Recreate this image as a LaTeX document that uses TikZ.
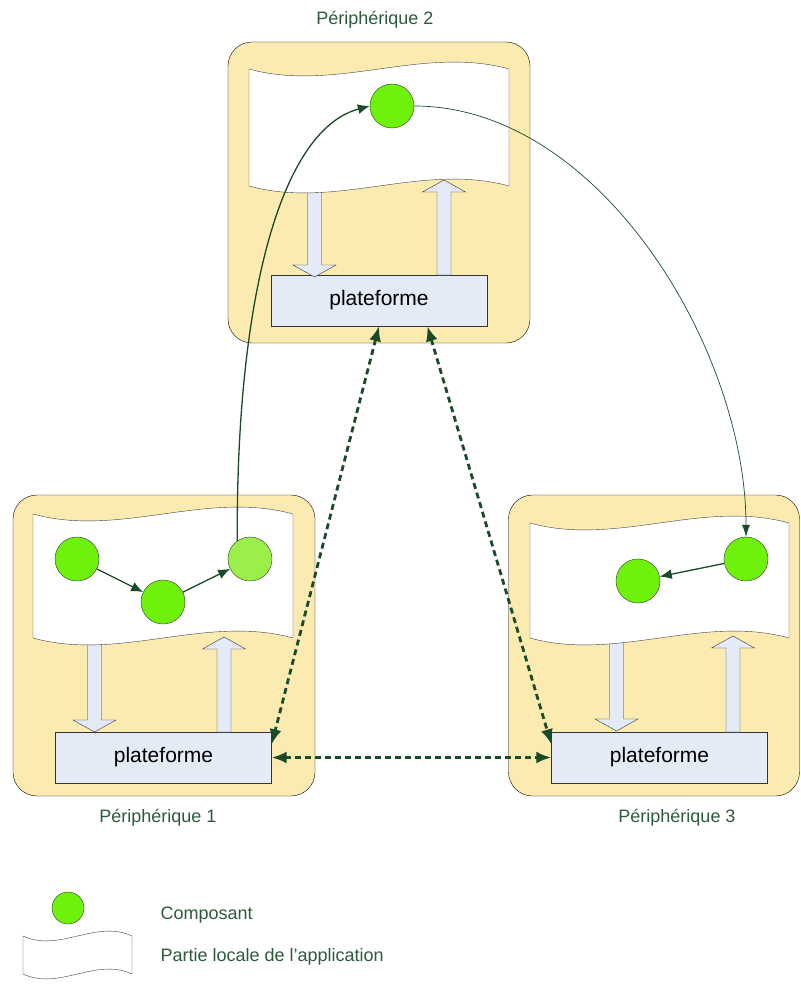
\documentclass[tikz,border=0pt]{standalone}
\usepackage{fontspec}
\setmainfont{Liberation Sans}
\usepackage{tikz}
\usetikzlibrary{arrows.meta}

\definecolor{jaune}{HTML}{FCEBB1}
\definecolor{bleu}{HTML}{E4EAF6}
\definecolor{vert}{HTML}{6EF20C}
\definecolor{vertclair}{HTML}{9CEF48}
\definecolor{vertfonce}{HTML}{1A4A28}
\definecolor{texte}{HTML}{2D5A3A}

% partie locale : gauche, haut, droite, bas, ondulation
\newcommand{\partie}[5]{\filldraw[fill=white, draw=black!75] (#1,#2)
  .. controls ({#1+(#3-#1)/3},{#2+#5}) and ({#1+2*(#3-#1)/3},{#2-#5}) .. (#3,#2)
  -- (#3,#4)
  .. controls ({#1+2*(#3-#1)/3},{#4-#5}) and ({#1+(#3-#1)/3},{#4+#5}) .. (#1,#4) -- cycle;}
% grosses fleches : x, depart, pointe
\newcommand{\flechebas}[3]{\filldraw[fleche] ({#1-7},#2) -- ({#1+7},#2) -- ({#1+7},{#3-12})
  -- ({#1+21.5},{#3-12}) -- (#1,#3) -- ({#1-21.5},{#3-12}) -- ({#1-7},{#3-12}) -- cycle;}
\newcommand{\flechehaut}[3]{\filldraw[fleche] ({#1-7},#2) -- ({#1+7},#2) -- ({#1+7},{#3+12})
  -- ({#1+21.5},{#3+12}) -- (#1,#3) -- ({#1-21.5},{#3+12}) -- ({#1-7},{#3+12}) -- cycle;}

\begin{document}
\begin{tikzpicture}[x=1pt, y=-1pt]
\tikzstyle{peripherique}=[rectangle, rounded corners=24pt, draw=black, fill=jaune, inner sep=0pt]
\tikzstyle{plateforme}=[rectangle, draw=black!80, fill=bleu, inner sep=0pt, minimum width=216pt, minimum height=51pt, font=\fontsize{21}{25}\selectfont]
\tikzstyle{composant}=[circle, draw=black!80, fill=vert, inner sep=0pt, minimum size=44pt]
\tikzstyle{nom}=[text=texte, font=\fontsize{18}{22}\selectfont]
\tikzstyle{fleche}=[fill=bleu, draw=black!80, line join=miter]
\tikzstyle{connect}=[-{Latex[length=12pt, width=10pt]}, line width=1.3pt, draw=vertfonce]
\tikzstyle{lien}=[-{Latex[length=12pt, width=8pt]}, line width=0.7pt, draw=vertfonce]
\tikzstyle{reseau}=[{Latex[length=15pt, width=12pt]}-{Latex[length=15pt, width=12pt]}, line width=2.8pt, dash pattern=on 6pt off 4pt, draw=vertfonce]
\useasboundingbox (0,0) rectangle (800,987);

  % peripheriques
  \node[peripherique, minimum width=302pt, minimum height=301pt] (per2) at (379,192.5) {};
  \node[peripherique, minimum width=302pt, minimum height=301pt] (per1) at (164,645.5) {};
  \node[peripherique, minimum width=291pt, minimum height=301pt] (per3) at (654,645.5) {};
  \node[nom] (nom2) at (375,20) {Périphérique 2};
  \node[nom] (nom1) at (158,818) {Périphérique 1};
  \node[nom] (nom3) at (677,818) {Périphérique 3};

  \node[plateforme] (p2) at (379,300.5) {plateforme};
  \node[plateforme] (p1) at (163.5,757.5) {plateforme};
  \node[plateforme] (p3) at (659.5,757.5) {plateforme};

  \flechebas{314.5}{186}{277} \flechehaut{444}{275}{180}
  \flechebas{94.5}{640}{732} \flechehaut{224}{732}{637}
  \flechebas{616.5}{640}{731} \flechehaut{733}{732}{636}

  \partie{249}{69}{509}{186}{24}
  \partie{33}{514}{293}{638}{24}
  \partie{530}{523}{789}{638}{24}

  % composants
  \node[composant] (c2) at (392,106) {};
  \node[composant] (c1a) at (77,559) {};
  \node[composant] (c1b) at (163,602) {};
  \node[composant, fill=vertclair] (c1c) at (250,559) {};
  \node[composant] (c3a) at (746,559) {};
  \node[composant] (c3b) at (638,581) {};

  \path (c1a) edge [connect] (c1b)
        (c1b) edge [connect] (c1c)
        (c3a) edge [connect] (c3b);
  \draw[connect] (c1c.125) .. controls (236,300) and (280,130) .. (c2.west);
  \draw[lien] (c2.east) .. controls (600,106) and (746,350) .. (c3a.north);

  \path (p2.south) edge [reseau] (p1.7)
        (p2.-28) edge [reseau] (p3.173)
        (p1.east) edge [reseau] (p3.west);

  % legende
  \node[composant, minimum size=32pt] (leg) at (68,908) {};
  \partie{23}{936}{132}{974}{17}
  \node[nom, anchor=west] (comp) at (157,915) {Composant};
  \node[nom, anchor=west] (loc) at (157,957) {Partie locale de l’application};
\end{tikzpicture}
\end{document}
